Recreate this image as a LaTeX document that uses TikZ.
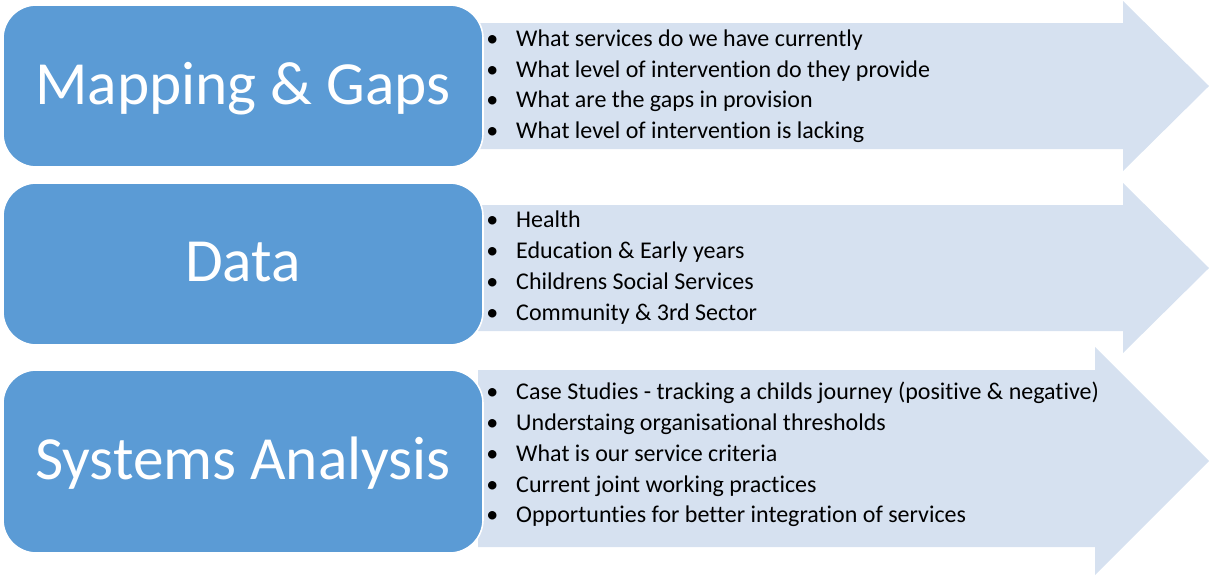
\documentclass[tikz,border=0pt]{standalone}
\usepackage{fontspec}
\setmainfont{Carlito}[RawFeature={-liga;-clig;-calt;-dlig}]
\usepackage{xcolor}

\definecolor{boxblue}{HTML}{5B9BD5}
\definecolor{arrowblue}{HTML}{D6E1F0}
\newcommand{\itembul}{\makebox[22.5pt][l]{\textbullet}}
\tikzset{
  stagebox/.style={fill=boxblue,draw=white,line width=1.2pt,rounded corners=25},
  stagetitle/.style={anchor=base,text=white,inner sep=0pt,font=\fontsize{46}{55}\selectfont},
  listitem/.style={anchor=base west,inner sep=0pt,font=\fontsize{18}{22}\selectfont}
}

\begin{document}
\begin{tikzpicture}[x=0.75pt,y=-0.75pt]
\useasboundingbox (0,0) rectangle (1210,576);
% Mapping & Gaps
\fill[arrowblue] (478,23) -- (1123,23) -- (1123,1) -- (1209,86) -- (1123,171) -- (1123,149) -- (478,149) -- cycle;
\draw[stagebox] (3,5) rectangle (483,167);
\node[stagetitle] (mapping) at (243,104) {Mapping \& Gaps};
\node[listitem] (map1) at (486,46) {\itembul What services do we have currently};
\node[listitem] (map2) at (486,77) {\itembul What level of intervention do they provide};
\node[listitem] (map3) at (486,107) {\itembul What are the gaps in provision};
\node[listitem] (map4) at (486,138) {\itembul What level of intervention is lacking};
% Data
\fill[arrowblue] (478,205) -- (1123,205) -- (1123,183) -- (1209,268) -- (1123,353) -- (1123,331) -- (478,331) -- cycle;
\draw[stagebox] (3,183) rectangle (483,345);
\node[stagetitle] (data) at (243,281) {Data};
\node[listitem] (data1) at (486,227) {\itembul Health};
\node[listitem] (data2) at (486,258) {\itembul Education \& Early years};
\node[listitem] (data3) at (486,289) {\itembul Childrens Social Services};
\node[listitem] (data4) at (486,320) {\itembul Community \& 3rd Sector};
% Systems Analysis
\fill[arrowblue] (478,370) -- (1095,370) -- (1095,347) -- (1209,461) -- (1095,575) -- (1095,547) -- (478,547) -- cycle;
\draw[stagebox] (3,370) rectangle (483,553);
\node[stagetitle] (systems) at (243,479) {Systems Analysis};
\node[listitem] (sys1) at (486,399) {\itembul Case Studies - tracking a childs journey (positive \& negative)};
\node[listitem] (sys2) at (486,430) {\itembul Understaing organisational thresholds};
\node[listitem] (sys3) at (486,461) {\itembul What is our service criteria};
\node[listitem] (sys4) at (486,492) {\itembul Current joint working practices};
\node[listitem] (sys5) at (486,522) {\itembul Opportunties for better integration of services};
\end{tikzpicture}
\end{document}
